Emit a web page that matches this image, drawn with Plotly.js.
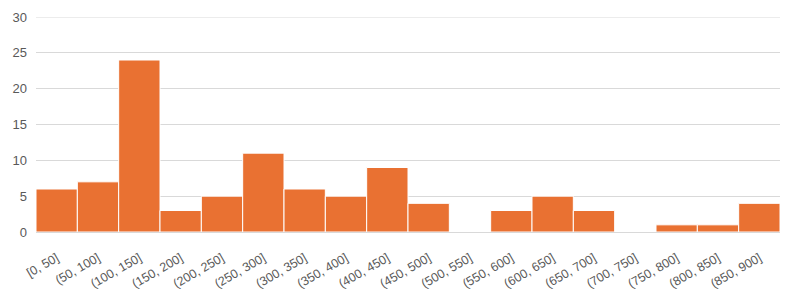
<!DOCTYPE html>
<html><head><meta charset="utf-8">
<script src="https://cdn.plot.ly/plotly-3.0.1.min.js"></script>
<style>html,body{margin:0;padding:0;background:#fff;}</style>
</head><body>
<div id="chart" style="width:786px;height:292px;"></div>
<script>
const categories = ["[0, 50]","(50, 100]","(100, 150]","(150, 200]","(200, 250]","(250, 300]","(300, 350]","(350, 400]","(400, 450]","(450, 500]","(500, 550]","(550, 600]","(600, 650]","(650, 700]","(700, 750]","(750, 800]","(800, 850]","(850, 900]"];
const counts = [6, 7, 24, 3, 5, 11, 6, 5, 9, 4, 0, 3, 5, 3, 0, 1, 1, 4];
const yTicks = [0, 5, 10, 15, 20, 25, 30];
const yMax = yTicks[yTicks.length - 1];

Plotly.newPlot('chart', [{
  type: 'bar',
  x: categories,
  y: counts,
  marker: {color: '#E97132', line: {color: '#ffffff', width: 1}},
  hoverinfo: 'x+y'
}], {
  width: 786, height: 292,
  margin: {l: 36, r: 6, t: 17, b: 60},
  paper_bgcolor: '#fff', plot_bgcolor: '#fff',
  bargap: 0,
  font: {family: 'Liberation Sans, Arial, sans-serif', color: '#595959'},
  xaxis: {
    type: 'category', tickangle: -30, tickfont: {size: 12.5, color: '#595959'},
    showgrid: false, showline: true, linecolor: '#d9d9d9', linewidth: 1, ticks: '',
    ticklabelstandoff: 13
  },
  yaxis: {
    range: [0, yMax], tickvals: yTicks, tickfont: {size: 13, color: '#595959'},
    showgrid: true, gridcolor: '#d9d9d9', gridwidth: 1, zeroline: false,
    showline: false, ticks: '', ticklabelstandoff: 8
  },
  shapes: [{type: 'line', xref: 'paper', yref: 'y', x0: 0, x1: 1, y0: yMax, y1: yMax,
            line: {color: '#d9d9d9', width: 1}, layer: 'below'}],
  showlegend: false
}, {displayModeBar: false, staticPlot: true});
</script>
</body></html>
